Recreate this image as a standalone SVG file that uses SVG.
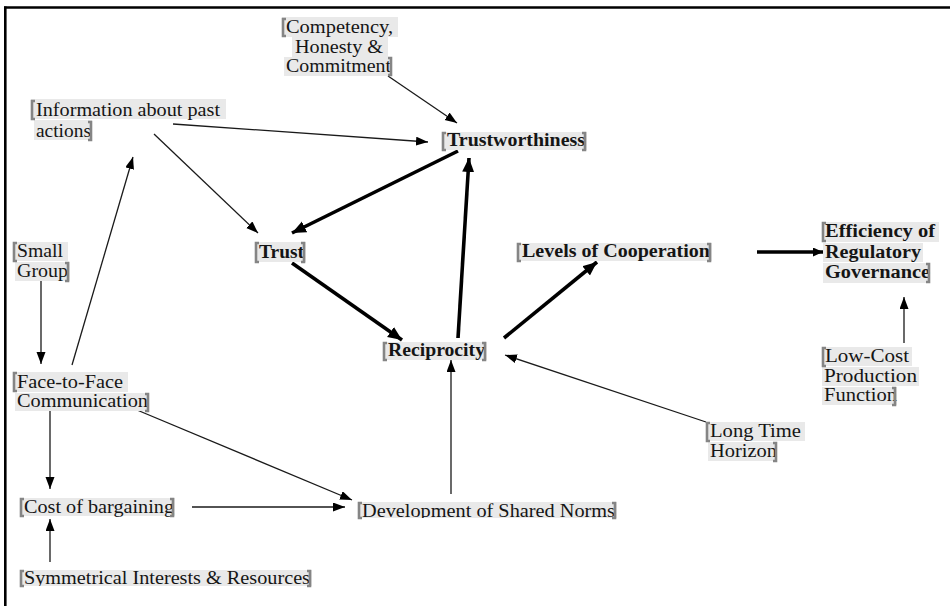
<svg xmlns="http://www.w3.org/2000/svg" width="950" height="606" viewBox="0 0 950 606">
<style>
.hl{fill:#e9e9e9}
.t{font-family:"Liberation Serif","Times New Roman",serif;font-size:18px;fill:#151515}
.b{font-weight:bold}
.br{fill:none;stroke:#858585;stroke-width:2.6}
.thin{stroke:#1a1a1a;stroke-width:1.3;fill:none;marker-end:url(#ah)}
.thick{stroke:#000;stroke-width:3.6;fill:none;marker-end:url(#ahb)}
.frame{stroke:#000;stroke-width:2.6}
</style>
<defs>
<marker id="ah" markerUnits="userSpaceOnUse" markerWidth="13" markerHeight="10" refX="12" refY="4.5" orient="auto"><path d="M0,0 L12,4.5 L0,9 z" fill="#000"/></marker>
<marker id="ahb" markerUnits="userSpaceOnUse" markerWidth="15" markerHeight="13" refX="14" refY="6" orient="auto"><path d="M0,0 L14,6 L0,12 z" fill="#000"/></marker>
<marker id="ahm" markerUnits="userSpaceOnUse" markerWidth="11" markerHeight="10" refX="10" refY="4.5" orient="auto"><path d="M0,0 L10,4.5 L0,9 z" fill="#000"/></marker>
<clipPath id="cDev"><rect x="340" y="495" width="300" height="23"/></clipPath>
<clipPath id="cSym"><rect x="10" y="560" width="320" height="26"/></clipPath>
</defs>
<rect width="950" height="606" fill="#fff"/>
<g id="frame">
<line class="frame" x1="4" y1="7.5" x2="950" y2="7.5"/>
<line class="frame" x1="5.3" y1="6.5" x2="5.3" y2="606"/>
</g>
<g id="connectors">
<line class="thin" x1="388" y1="76" x2="457" y2="123"/>
<line class="thin" x1="173" y1="124" x2="428" y2="142"/>
<line class="thin" x1="154" y1="134" x2="258" y2="233"/>
<line class="thin" x1="72" y1="365" x2="133" y2="157"/>
<line class="thick" x1="458" y1="151" x2="292" y2="233"/>
<line class="thick" x1="292" y1="263" x2="402" y2="340"/>
<line class="thick" x1="458" y1="338" x2="469" y2="158"/>
<line class="thick" x1="504" y1="338" x2="597" y2="262"/>
<line x1="757" y1="252" x2="823" y2="252" stroke="#000" stroke-width="3.4" marker-end="url(#ahm)"/>
<line class="thin" x1="904" y1="343" x2="904" y2="297"/>
<line class="thin" x1="706" y1="422" x2="505" y2="355"/>
<line class="thin" x1="451" y1="494" x2="451" y2="360"/>
<line class="thin" x1="41" y1="281" x2="41" y2="364"/>
<line class="thin" x1="50" y1="409" x2="50" y2="489"/>
<line class="thin" x1="137" y1="410" x2="352" y2="500"/>
<line class="thin" x1="192" y1="507" x2="345" y2="507"/>
<line class="thin" x1="50" y1="562" x2="50" y2="519"/>
</g>
<g id="competency">
<rect class="hl" x="282" y="17" width="116" height="20"/>
<rect class="hl" x="292" y="37" width="96" height="20"/>
<rect class="hl" x="284" y="57" width="108" height="19"/>
<text class="t" x="286" y="33" textLength="107" lengthAdjust="spacingAndGlyphs">Competency,</text>
<text class="t" x="295" y="53" textLength="88" lengthAdjust="spacingAndGlyphs">Honesty &amp;</text>
<text class="t" x="286" y="72" textLength="105" lengthAdjust="spacingAndGlyphs">Commitment</text>
<path class="br" d="M286,19 H283 V36 H286"/>
<path class="br" d="M388,58 H391 V75 H388"/>
</g>
<g id="information">
<rect class="hl" x="31" y="99" width="195" height="20"/>
<rect class="hl" x="34" y="120" width="58" height="20"/>
<text class="t" x="36" y="116" textLength="184" lengthAdjust="spacingAndGlyphs">Information about past</text>
<text class="t" x="36" y="137" textLength="55" lengthAdjust="spacingAndGlyphs">actions</text>
<path class="br" d="M35,101 H32 V119 H35"/>
<path class="br" d="M88,122 H91 V140 H88"/>
</g>
<g id="trustworthiness">
<rect class="hl" x="442" y="132" width="145" height="18"/>
<text class="t b" x="447" y="146" textLength="138" lengthAdjust="spacingAndGlyphs">Trustworthiness</text>
<path class="br" d="M446,133 H443 V150 H446"/>
<path class="br" d="M582,133 H585 V150 H582"/>
</g>
<g id="small-group">
<rect class="hl" x="13" y="242" width="55" height="19"/>
<rect class="hl" x="15" y="262" width="55" height="19"/>
<text class="t" x="17" y="257" textLength="46" lengthAdjust="spacingAndGlyphs">Small</text>
<text class="t" x="17" y="277" textLength="51" lengthAdjust="spacingAndGlyphs">Group</text>
<path class="br" d="M17,243 H14 V261 H17"/>
<path class="br" d="M65,263 H68 V281 H65"/>
</g>
<g id="face-to-face">
<rect class="hl" x="13" y="372" width="115" height="20"/>
<rect class="hl" x="15" y="393" width="134" height="18"/>
<text class="t" x="17" y="388" textLength="106" lengthAdjust="spacingAndGlyphs">Face-to-Face</text>
<text class="t" x="17" y="407" textLength="131" lengthAdjust="spacingAndGlyphs">Communication</text>
<path class="br" d="M17,373 H14 V391 H17"/>
<path class="br" d="M145,394 H148 V411 H145"/>
</g>
<g id="trust">
<rect class="hl" x="255" y="242" width="51" height="20"/>
<text class="t b" x="259" y="258" textLength="45" lengthAdjust="spacingAndGlyphs">Trust</text>
<path class="br" d="M259,243 H256 V262 H259"/>
<path class="br" d="M301,243 H304 V262 H301"/>
</g>
<g id="reciprocity">
<rect class="hl" x="383" y="342" width="104" height="18"/>
<text class="t b" x="388" y="356" textLength="97" lengthAdjust="spacingAndGlyphs">Reciprocity</text>
<path class="br" d="M387,343 H384 V360 H387"/>
<path class="br" d="M482,343 H485 V360 H482"/>
</g>
<g id="levels-of-cooperation">
<rect class="hl" x="517" y="243" width="195" height="18"/>
<text class="t b" x="522" y="257" textLength="188" lengthAdjust="spacingAndGlyphs">Levels of Cooperation</text>
<path class="br" d="M521,244 H518 V261 H521"/>
<path class="br" d="M707,244 H710 V261 H707"/>
</g>
<g id="efficiency">
<rect class="hl" x="822" y="222" width="117" height="20"/>
<rect class="hl" x="823" y="243" width="100" height="19"/>
<rect class="hl" x="823" y="263" width="107" height="20"/>
<text class="t b" x="825" y="237" textLength="110" lengthAdjust="spacingAndGlyphs">Efficiency of</text>
<text class="t b" x="825" y="258" textLength="96" lengthAdjust="spacingAndGlyphs">Regulatory</text>
<text class="t b" x="825" y="278" textLength="105" lengthAdjust="spacingAndGlyphs">Governance</text>
<path class="br" d="M826,223 H823 V241 H826"/>
<path class="br" d="M926,264 H929 V282 H926"/>
</g>
<g id="low-cost">
<rect class="hl" x="822" y="347" width="90" height="19"/>
<rect class="hl" x="822" y="367" width="97" height="19"/>
<rect class="hl" x="822" y="387" width="75" height="18"/>
<text class="t" x="825" y="362" textLength="84" lengthAdjust="spacingAndGlyphs">Low-Cost</text>
<text class="t" x="824" y="382" textLength="93" lengthAdjust="spacingAndGlyphs">Production</text>
<text class="t" x="824" y="401" textLength="73" lengthAdjust="spacingAndGlyphs">Function</text>
<path class="br" d="M826,348 H823 V366 H826"/>
<path class="br" d="M892,388 H895 V405 H892"/>
</g>
<g id="long-time-horizon">
<rect class="hl" x="706" y="422" width="99" height="19"/>
<rect class="hl" x="708" y="442" width="69" height="19"/>
<text class="t" x="710" y="437" textLength="91" lengthAdjust="spacingAndGlyphs">Long Time</text>
<text class="t" x="710" y="457" textLength="67" lengthAdjust="spacingAndGlyphs">Horizon</text>
<path class="br" d="M710,423 H707 V441 H710"/>
<path class="br" d="M773,443 H776 V461 H773"/>
</g>
<g id="cost-of-bargaining">
<rect class="hl" x="20" y="498" width="155" height="18"/>
<text class="t" x="24" y="513" textLength="150" lengthAdjust="spacingAndGlyphs">Cost of bargaining</text>
<path class="br" d="M24,499 H21 V516 H24"/>
<path class="br" d="M170,499 H173 V516 H170"/>
</g>
<g id="shared-norms">
<rect class="hl" x="358" y="502" width="259" height="16"/>
<text class="t" x="362" y="517" textLength="253" lengthAdjust="spacingAndGlyphs" clip-path="url(#cDev)">Development of Shared Norms</text>
<path class="br" d="M362,503 H359 V518 H362"/>
<path class="br" d="M612,503 H615 V518 H612"/>
</g>
<g id="symmetrical">
<rect class="hl" x="20" y="570" width="292" height="16"/>
<text class="t" x="24" y="584" textLength="286" lengthAdjust="spacingAndGlyphs" clip-path="url(#cSym)">Symmetrical Interests &amp; Resources</text>
<path class="br" d="M24,571 H21 V586 H24"/>
<path class="br" d="M307,571 H310 V586 H307"/>
</g>
</svg>
